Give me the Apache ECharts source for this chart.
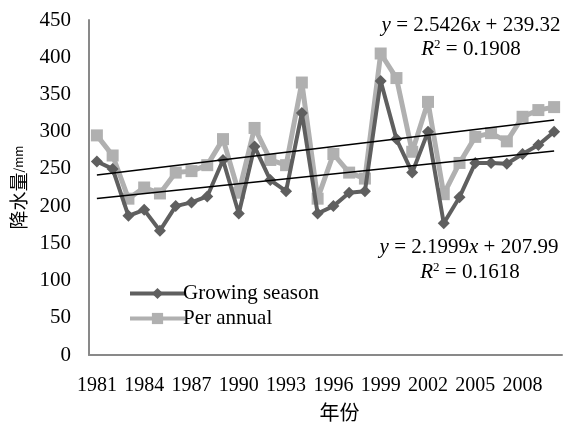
<!DOCTYPE html>
<html><head><meta charset="utf-8">
<script src="https://cdn.jsdelivr.net/npm/echarts@6/dist/echarts.min.js"></script>
<style>html,body{margin:0;padding:0;background:#fff}#c{width:564px;height:428px}</style>
</head><body><div id="c"></div>
<script>
const years = ['1981','1982','1983','1984','1985','1986','1987','1988','1989','1990','1991','1992','1993','1994','1995','1996','1997','1998','1999','2000','2001','2002','2003','2004','2005','2006','2007','2008','2009','2010'];
const growingSeason = [260,250,187,195,167,200,205,213,262,190,280,235,220,325,190,200,218,220,368,290,245,300,177,212,258,258,257,270,282,300];
const perAnnual = [295,268,210,225,217,245,247,255,290,218,305,262,255,366,210,270,245,237,405,372,273,340,216,258,293,298,287,320,329,333];
// trend line endpoints (first and last year), read from the fitted equations shown on the chart
const trendAnnualEnds = [241.86, 315.60];
const trendGrowingEnds = [210.19, 273.99];
const yTicks = [0,50,100,150,200,250,300,350,400,450];

function ends(e){ const a = years.map(()=>null); a[0]=e[0]; a[a.length-1]=e[1]; return a; }
const serif = '"Liberation Serif","Times New Roman",serif';
const cjk = '"Noto Sans CJK SC",sans-serif';
const chart = echarts.init(document.getElementById('c'));
chart.setOption({
  animation:false,
  grid:{left:89,top:20,right:2,bottom:73,containLabel:false,outerBoundsMode:'none'},
  xAxis:{type:'category',data:years,boundaryGap:true,
    axisLine:{lineStyle:{color:'#898989',width:2}},axisTick:{show:false},
    axisLabel:{interval:2,color:'#000',fontFamily:serif,fontSize:20,margin:21},
    name:'年份',nameLocation:'middle',nameGap:47,
    nameTextStyle:{fontFamily:cjk,fontSize:20,color:'#000',padding:[0,0,0,28]}},
  yAxis:{type:'value',min:yTicks[0],max:yTicks[yTicks.length-1],interval:50,
    axisLine:{show:true,lineStyle:{color:'#898989',width:2}},axisTick:{show:false},splitLine:{show:false},
    axisLabel:{color:'#000',fontFamily:serif,fontSize:21,margin:18},
    name:'{a|降水量}{b|/mm}',nameLocation:'middle',nameGap:61,nameRotate:90,nameMoveOverlap:false,
    nameTextStyle:{rich:{a:{fontFamily:cjk,fontSize:19,color:'#000'},b:{fontFamily:cjk,fontSize:12,color:'#000'}}}},
  legend:{orient:'vertical',left:123,top:278,itemGap:4,itemWidth:55,itemHeight:14,
    data:['Growing season','Per annual'],
    lineStyle:{width:4},
    textStyle:{fontFamily:serif,fontSize:21,color:'#000',padding:[0,0,0,-7]}},
  series:[
    {name:'Per annual',type:'line',data:perAnnual,symbol:'rect',symbolSize:12,showAllSymbol:true,
     lineStyle:{color:'#b0b0b0',width:5},itemStyle:{color:'#b0b0b0'},z:2},
    {name:'Growing season',type:'line',data:growingSeason,symbol:'diamond',symbolSize:12,showAllSymbol:true,
     lineStyle:{color:'#5f5f5f',width:4},itemStyle:{color:'#5f5f5f'},z:3},
    {name:'trendA',type:'line',data:ends(trendAnnualEnds),connectNulls:true,symbol:'none',
     lineStyle:{color:'#000',width:1.5},z:4},
    {name:'trendG',type:'line',data:ends(trendGrowingEnds),connectNulls:true,symbol:'none',
     lineStyle:{color:'#000',width:1.5},z:4}
  ],
  graphic:[
    {type:'text',x:471,y:25,style:{text:'{i|y} = 2.5426{i|x} + 239.32',align:'center',verticalAlign:'middle',font:'21px '+serif,fill:'#000',rich:{i:{fontStyle:'italic',fontFamily:serif,fontSize:21}}}},
    {type:'text',x:471,y:49,style:{text:'{i|R}{s|2} = 0.1908',align:'center',verticalAlign:'middle',font:'21px '+serif,fill:'#000',rich:{i:{fontStyle:'italic',fontFamily:serif,fontSize:21},s:{fontFamily:serif,fontSize:13,verticalAlign:'top',padding:[0,0,8,0]}}}},
    {type:'text',x:469,y:247,style:{text:'{i|y} = 2.1999{i|x} + 207.99',align:'center',verticalAlign:'middle',font:'21px '+serif,fill:'#000',rich:{i:{fontStyle:'italic',fontFamily:serif,fontSize:21}}}},
    {type:'text',x:470,y:272,style:{text:'{i|R}{s|2} = 0.1618',align:'center',verticalAlign:'middle',font:'21px '+serif,fill:'#000',rich:{i:{fontStyle:'italic',fontFamily:serif,fontSize:21},s:{fontFamily:serif,fontSize:13,verticalAlign:'top',padding:[0,0,8,0]}}}}
  ]
});
</script></body></html>
